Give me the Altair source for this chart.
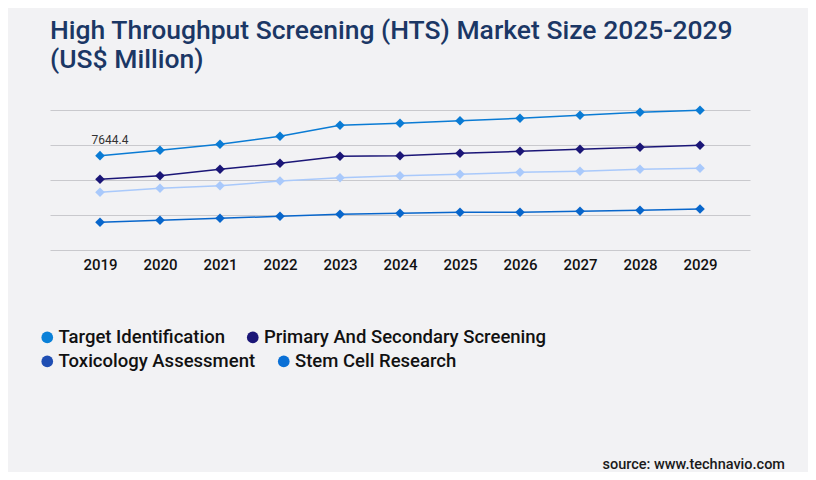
import altair as alt
import pandas as pd

# values (US$ million)
years = list(range(2019, 2030))
series_names = [
    "Target Identification",
    "Primary And Secondary Screening",
    "Toxicology Assessment",
    "Stem Cell Research",
]
target_identification = [7644.4, 7873, 8130, 8473, 8944, 9030, 9141, 9244, 9373, 9501, 9587]
primary_secondary = [6630, 6784, 7059, 7316, 7616, 7641, 7744, 7830, 7916, 8001, 8087]
toxicology = [6073, 6244, 6356, 6557, 6699, 6784, 6844, 6930, 6973, 7059, 7101]
stem_cell = [4787, 4873, 4959, 5044, 5130, 5173, 5216, 5216, 5259, 5301, 5357]
grid_values = [3600, 5100, 6600, 8100, 9600]

title_lines = ["High Throughput Screening (HTS) Market Size 2025-2029", "(US$ Million)"]
source_note = "source: www.technavio.com"

LINE_COLORS = ["#0a7bd4", "#1b1677", "#a9c9fb", "#0866cb"]
LEGEND_COLORS = ["#0a80d8", "#1b1677", "#1f4eb3", "#0a70d6"]
TITLE_COLOR = "#1b3765"
BACKGROUND = "#f2f2f4"
FONT = "Roboto"

frames = []
for name, values in zip(series_names, [target_identification, primary_secondary, toxicology, stem_cell]):
    frames.append(pd.DataFrame({"year": years, "value": values, "series": name}))
data = pd.concat(frames, ignore_index=True)

x_enc = alt.X(
    "year:O",
    title=None,
    scale=alt.Scale(type="point", padding=0.8333),
    axis=alt.Axis(labelAngle=0, ticks=False, domain=False, grid=False, labelPadding=7,
                  labelFont=FONT, labelFontSize=15, labelFontWeight=500, labelColor="#111111"),
)
y_enc = alt.Y(
    "value:Q",
    title=None,
    scale=alt.Scale(domain=[grid_values[0], grid_values[-1]], nice=False, zero=False),
    axis=alt.Axis(values=grid_values, tickCount=len(grid_values), labels=False, ticks=False,
                  domain=False, grid=True, gridColor="#c9c9cd", gridWidth=1, minExtent=0),
)
line_color = alt.Color(
    "series:N",
    scale=alt.Scale(domain=series_names, range=LINE_COLORS),
    legend=None,
)

base = alt.Chart(data)

lines = base.mark_line(strokeWidth=1.5).encode(x=x_enc, y=y_enc, color=line_color)
points = base.mark_point(shape="diamond", filled=True, size=92, opacity=1).encode(
    x="year:O", y="value:Q", color=line_color
)


def legend_row(names, colors, legend_y):
    """Invisible layer that only carries one row of the legend."""
    return base.transform_filter(
        alt.FieldOneOfPredicate(field="series", oneOf=names)
    ).mark_circle(opacity=0).encode(
        x="year:O",
        y="value:Q",
        color=alt.Color(
            "series:N",
            scale=alt.Scale(domain=names, range=colors),
            legend=alt.Legend(
                title=None,
                orient="none",
                direction="horizontal",
                legendX=-12,
                legendY=legend_y,
                columnPadding=18.5,
                padding=0,
                symbolType="circle",
                symbolSize=137,
                symbolOpacity=1,
                symbolStrokeWidth=0,
                labelOffset=2,
                labelFont=FONT,
                labelFontSize=18.5,
                labelFontWeight=500,
                labelColor="#111111",
                labelLimit=400,
            ),
        ),
    )


legend_top = legend_row(series_names[:2], LEGEND_COLORS[:2], 218)
legend_bottom = legend_row(series_names[2:], LEGEND_COLORS[2:], 242)

first_label = base.transform_filter(
    (alt.datum.series == series_names[0]) & (alt.datum.year == years[0])
).mark_text(font=FONT, fontSize=12, color="#333333", dx=10, dy=-16).encode(
    x="year:O", y="value:Q", text=alt.Text("value:Q", format=".1f")
)

source = alt.Chart(pd.DataFrame({"note": [source_note]})).mark_text(
    font=FONT, fontSize=14.5, fontWeight=500, color="#1a1a1a", align="right", baseline="middle"
).encode(x=alt.value(735), y=alt.value(355), text="note:N")

chart = (
    alt.layer(lines, points, legend_top, legend_bottom, first_label, source)
    .resolve_scale(color="independent")
    .properties(
        width=700,
        height=140,
        autosize=alt.AutoSizeParams(type="none"),
        padding={"left": 42, "top": 102, "right": 58, "bottom": 222},
        background=BACKGROUND,
        title=alt.Title(
            text=title_lines,
            anchor="start",
            frame="group",
            font=FONT,
            fontSize=26.5,
            fontWeight=500,
            color=TITLE_COLOR,
            lineHeight=29,
            offset=32,
        ),
    )
    .configure_view(stroke=None)
)

chart.save("out.html", embed_options={"renderer": "svg", "actions": False})
